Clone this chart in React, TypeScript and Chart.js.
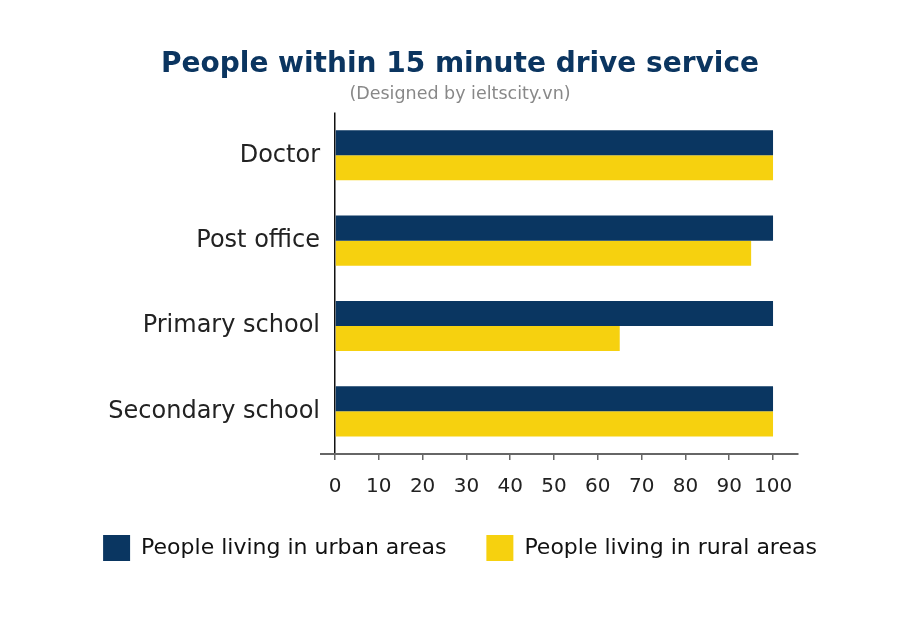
import React, { useEffect, useRef } from "react";
import { Chart, registerables } from "chart.js";

Chart.register(...registerables);

const categories = ["Doctor", "Post office", "Primary school", "Secondary school"];
const urbanValues = [100, 100, 100, 100];
const ruralValues = [100, 95, 65, 100];
const seriesNames = ["People living in urban areas", "People living in rural areas"];
const xTickValues = [0, 10, 20, 30, 40, 50, 60, 70, 80, 90, 100];

const FONT = "'DejaVu Sans', sans-serif";
const NAVY = "#0a3661";
const YELLOW = "#f6d10f";

export default function App() {
  const ref = useRef<HTMLCanvasElement | null>(null);
  useEffect(() => {
    document.body.style.margin = "0";
    const canvas = ref.current!;
    const chart = new Chart(canvas, {
      type: "bar",
      data: {
        labels: categories,
        datasets: [
          { label: seriesNames[0], data: urbanValues, backgroundColor: NAVY, borderWidth: 0 },
          { label: seriesNames[1], data: ruralValues, backgroundColor: YELLOW, borderWidth: 0 },
        ],
      },
      options: {
        indexAxis: "y",
        responsive: false,
        animation: false,
        layout: { padding: { left: 12, right: 0, top: 0, bottom: 66 } },
        datasets: { bar: { categoryPercentage: 0.588, barPercentage: 1 } },
        scales: {
          x: {
            type: "linear",
            min: -3.2,
            max: 105.7,
            afterBuildTicks: (s: any) => {
              s.ticks = xTickValues.map((v) => ({ value: v }));
            },
            afterFit: (s: any) => {
              s.height = 41;
            },
            grid: {
              drawOnChartArea: true,
              color: (ctx: any) => (ctx.tick && ctx.tick.value === 0 ? "#111" : "rgba(0,0,0,0)"),
              tickColor: "#666",
              tickLength: 6,
              lineWidth: 1.5,
            },
            border: { display: true, color: "#666", width: 2 },
            ticks: {
              padding: 15,
              color: "#222",
              font: { family: FONT, size: 20 },
            },
          },
          y: {
            type: "category",
            grid: { display: false },
            border: { display: false },
            afterFit: (s: any) => {
              s.width = 309;
            },
            ticks: {
              padding: -7,
              color: "#222",
              font: { family: FONT, size: 24 },
            },
          },
          y2: {
            type: "category",
            position: "right",
            labels: categories,
            grid: { display: false },
            border: { display: false },
            ticks: { display: false },
            afterFit: (s: any) => {
              s.width = 110;
            },
          },
        },
        plugins: {
          title: {
            display: true,
            text: "People within 15 minute drive service",
            color: "#0b3560",
            font: { family: FONT, size: 28, weight: "bold", lineHeight: 1.2 },
            padding: { top: 48, bottom: 0 },
          },
          subtitle: {
            display: true,
            text: "(Designed by ieltscity.vn)",
            color: "#888",
            font: { family: FONT, size: 17.5, lineHeight: 1.2 },
            padding: { top: 2, bottom: 8 },
          },
          legend: {
            position: "bottom",
            labels: {
              boxWidth: 27,
              boxHeight: 26,
              padding: 40,
              color: "#111",
              font: { family: FONT, size: 22 },
            },
          },
          tooltip: { enabled: false },
        },
      },
    });
    return () => chart.destroy();
  }, []);
  return <canvas ref={ref} width={908} height={637} />;
}
